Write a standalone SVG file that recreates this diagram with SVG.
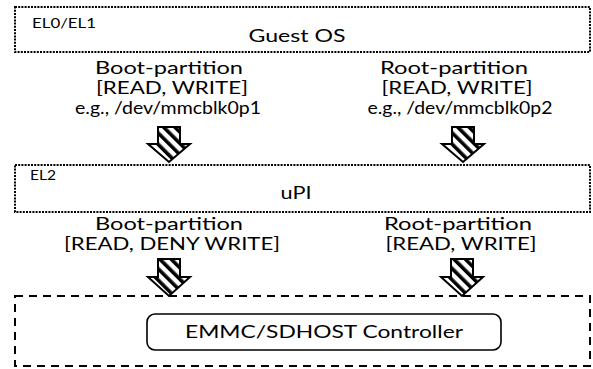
<svg xmlns="http://www.w3.org/2000/svg" width="593" height="369" viewBox="0 0 593 369">
<defs>
<pattern id="hatch" patternUnits="userSpaceOnUse" width="8" height="8" patternTransform="rotate(-45)">
<rect width="8" height="8" fill="#fff"/>
<rect width="3.6" height="8" fill="#000"/>
</pattern>
<style>
.t{font-family:Lato,"Open Sans","Liberation Sans",sans-serif;font-size:16.5px;fill:#000;text-anchor:middle}
.s{font-family:Lato,"Open Sans","Liberation Sans",sans-serif;font-size:12.5px;fill:#000}
.dot{fill:#fff;stroke:#000;stroke-width:2;stroke-dasharray:2 1.2}
.dash{fill:#fff;stroke:#000;stroke-width:2;stroke-dasharray:8 6}
.arr{fill:url(#hatch);stroke:#000;stroke-width:2;stroke-linejoin:miter}
</style>
</defs>
<rect width="593" height="369" fill="#fff"/>
<g id="guest-os">
<rect class="dot" x="15" y="7" width="575" height="45"/>
<text class="s" x="32" y="28" textLength="64" lengthAdjust="spacingAndGlyphs">EL0/EL1</text>
<text class="t" x="297" y="42" textLength="97" lengthAdjust="spacingAndGlyphs">Guest OS</text>
</g>
<g id="upi">
<rect class="dot" x="15" y="165" width="575" height="47"/>
<text class="s" x="30" y="180" textLength="26" lengthAdjust="spacingAndGlyphs">EL2</text>
<text class="t" x="296" y="199" textLength="31" lengthAdjust="spacingAndGlyphs">uPI</text>
</g>
<g id="storage">
<rect class="dash" x="15" y="296" width="575" height="70"/>
<rect x="147" y="314" width="354" height="36" rx="8" fill="#fff" stroke="#000" stroke-width="1.6"/>
<text class="t" x="324" y="338" textLength="278" lengthAdjust="spacingAndGlyphs">EMMC/SDHOST Controller</text>
</g>
<g id="labels">
<text class="t" x="169" y="74" textLength="148" lengthAdjust="spacingAndGlyphs">Boot-partition</text>
<text class="t" x="172" y="94" textLength="152" lengthAdjust="spacingAndGlyphs">[READ, WRITE]</text>
<text class="t" x="168" y="114" textLength="186" lengthAdjust="spacingAndGlyphs">e.g., /dev/mmcblk0p1</text>
<text class="t" x="454" y="74" textLength="148" lengthAdjust="spacingAndGlyphs">Root-partition</text>
<text class="t" x="457" y="94" textLength="151" lengthAdjust="spacingAndGlyphs">[READ, WRITE]</text>
<text class="t" x="460" y="114" textLength="185" lengthAdjust="spacingAndGlyphs">e.g., /dev/mmcblk0p2</text>
<text class="t" x="169" y="230" textLength="148" lengthAdjust="spacingAndGlyphs">Boot-partition</text>
<text class="t" x="172" y="250" textLength="216" lengthAdjust="spacingAndGlyphs">[READ, DENY WRITE]</text>
<text class="t" x="458" y="230" textLength="148" lengthAdjust="spacingAndGlyphs">Root-partition</text>
<text class="t" x="461" y="250" textLength="151" lengthAdjust="spacingAndGlyphs">[READ, WRITE]</text>
</g>
<g id="connectors">
<path class="arr" d="M158,127H180V144H190L169,162L148,144H158Z"/>
<path class="arr" d="M452,127H474V144H484L463,162L442,144H452Z"/>
<path class="arr" d="M158,259H180V277H190L169,296L148,277H158Z"/>
<path class="arr" d="M451,259H473V277H483L462,296L441,277H451Z"/>
</g>
</svg>
